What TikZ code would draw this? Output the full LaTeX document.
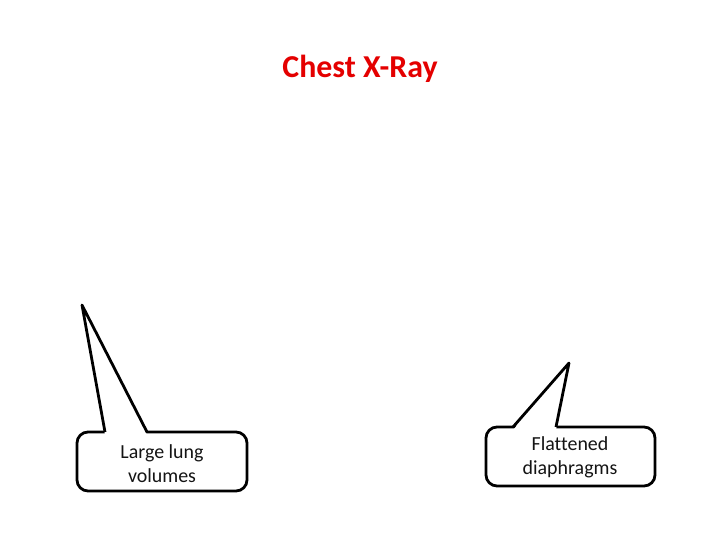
\documentclass[tikz,border=0pt]{standalone}
\usepackage{fontspec}
\setmainfont{Carlito}[Ligatures=NoCommon]
\usepackage{xcolor}
\usepackage{tikz}
\usetikzlibrary{positioning,calc}
\definecolor{titlered}{RGB}{228, 0, 0}
\definecolor{textdark}{RGB}{20, 20, 20}

\begin{document}
\begin{tikzpicture}[x=1bp,y=-1bp,
    callout/.style={draw=black,line width=2.8pt,line join=round,fill=white},
    calloutlabel/.style={text=textdark,align=center,inner sep=0pt,font=\fontsize{20}{24}\selectfont}]
    \useasboundingbox (0,0) rectangle (720,540);

    % title
    \node[titlered,font=\fontsize{32}{38}\selectfont\bfseries,anchor=base,inner sep=0pt] (title) at (360,78) {Chest X-Ray};

    % left callout
    \coordinate (lungtip) at (82,305);
    \draw[callout,rounded corners=11bp] (77,432) rectangle (247,491);
    \fill[white] (105,435) -- (lungtip) -- (147,435) -- cycle;
    \draw[callout,fill=none] (105,432) -- (lungtip) -- (147,432);
    \node[calloutlabel] (lung) at (162,464) {Large lung\\volumes};

    % right callout
    \coordinate (diaphtip) at (569,363);
    \draw[callout,rounded corners=11bp] (486,427) rectangle (655,486);
    \fill[white] (513,430) -- (diaphtip) -- (556,430) -- cycle;
    \draw[callout,fill=none] (513,427) -- (diaphtip) -- (556,427);
    \node[calloutlabel] (diaph) at (570,457) {Flattened\\diaphragms};
\end{tikzpicture}
\end{document}
